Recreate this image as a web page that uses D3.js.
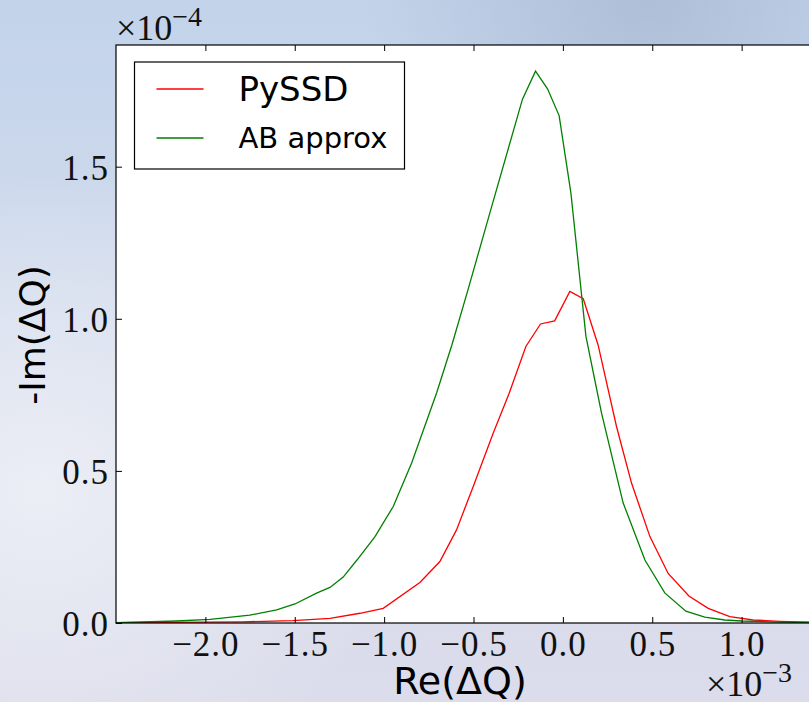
<!DOCTYPE html>
<html>
<head>
<meta charset="utf-8">
<script src="https://cdn.jsdelivr.net/npm/d3@7"></script>
<style>
  body { margin: 0; padding: 0; overflow: hidden; }
  svg { display: block; }
</style>
</head>
<body>
<div id="chart"></div>
<script>
// Re(dQ) in units of 1e-3, -Im(dQ) in units of 1e-4
const pyssd_re = [-2.5, -1.79, -1.51, -1.303, -1.135, -1.005, -0.8, -0.688, -0.595, -0.502, -0.39, -0.302, -0.207, -0.125, -0.046, 0.039, 0.114, 0.197, 0.3, 0.384, 0.487, 0.589, 0.705, 0.813, 0.934, 1.064, 1.214, 1.5];
const pyssd_im = [0.001, 0.004, 0.0076, 0.0155, 0.032, 0.048, 0.133, 0.202, 0.306, 0.448, 0.624, 0.753, 0.909, 0.983, 0.993, 1.09, 1.066, 0.914, 0.646, 0.46, 0.284, 0.163, 0.089, 0.048, 0.021, 0.0099, 0.0056, 0.001];

const ab_re = [-2.5, -2.161, -1.974, -1.751, -1.601, -1.499, -1.378, -1.303, -1.229, -1.152, -1.051, -0.949, -0.846, -0.706, -0.621, -0.531, -0.408, -0.226, -0.153, -0.086, -0.021, 0.045, 0.129, 0.216, 0.337, 0.459, 0.57, 0.688, 0.794, 0.906, 1.001, 1.214, 1.5];
const ab_im = [0.001, 0.0066, 0.012, 0.026, 0.043, 0.0625, 0.098, 0.117, 0.151, 0.207, 0.284, 0.383, 0.526, 0.757, 0.914, 1.095, 1.349, 1.722, 1.814, 1.756, 1.668, 1.413, 0.942, 0.691, 0.395, 0.207, 0.099, 0.039, 0.019, 0.0099, 0.0066, 0.003, 0.0007];

const x_ticks = [-2.0, -1.5, -1.0, -0.5, 0.0, 0.5, 1.0];
const x_tick_labels = ["\u22122.0", "\u22121.5", "\u22121.0", "\u22120.5", "0.0", "0.5", "1.0"];
const y_ticks = [0.0, 0.5, 1.0, 1.5];
const y_tick_labels = ["0.0", "0.5", "1.0", "1.5"];

const series_names = ["PySSD", "AB approx"];
const series_colors = ["#ff0000", "#008000"];

const W = 809, H = 702;
var margin = {top: 45, left: 116};
var plot_w = 715, plot_h = 578;

const svg = d3.select("#chart").append("svg")
    .attr("width", W)
    .attr("height", H);

// background, something like the photo behind the figure
const defs = svg.append("defs");
const bg = defs.append("linearGradient").attr("id", "bg")
    .attr("x1", 0).attr("y1", 0).attr("x2", 0).attr("y2", 1);
bg.append("stop").attr("offset", "0%").attr("stop-color", "#c2d3ea");
bg.append("stop").attr("offset", "45%").attr("stop-color", "#d3dced");
bg.append("stop").attr("offset", "100%").attr("stop-color", "#dcdceb");
const glow = defs.append("radialGradient").attr("id", "glow")
    .attr("cx", 0.05).attr("cy", 0.7).attr("r", 0.45);
glow.append("stop").attr("offset", "0%").attr("stop-color", "#eef0f6").attr("stop-opacity", 0.9);
glow.append("stop").attr("offset", "100%").attr("stop-color", "#eef0f6").attr("stop-opacity", 0);
const shade = defs.append("radialGradient").attr("id", "shade")
    .attr("cx", 0.8).attr("cy", 0.0).attr("r", 0.35);
shade.append("stop").attr("offset", "0%").attr("stop-color", "#a9b9d3").attr("stop-opacity", 0.8);
shade.append("stop").attr("offset", "100%").attr("stop-color", "#a9b9d3").attr("stop-opacity", 0);

svg.append("rect").attr("width", W).attr("height", H).attr("fill", "url(#bg)");
svg.append("rect").attr("width", W).attr("height", H).attr("fill", "url(#glow)");
svg.append("rect").attr("width", W).attr("height", H).attr("fill", "url(#shade)");

const g = svg.append("g")
    .attr("transform", "translate(" + margin.left + "," + margin.top + ")");

var x = d3.scaleLinear().domain([-2.5, 1.5]).range([0, plot_w]);
var y = d3.scaleLinear().domain([0, 1.9]).range([plot_h, 0]);

g.append("rect")
    .attr("width", plot_w).attr("height", plot_h)
    .attr("fill", "white");

defs.append("clipPath").attr("id", "clip")
    .append("rect").attr("width", plot_w).attr("height", plot_h);

const line = d3.line()
    .x(d => x(d[0]))
    .y(d => y(d[1]));

const pyssd = pyssd_re.map((v, i) => [v, pyssd_im[i]]);
const ab = ab_re.map((v, i) => [v, ab_im[i]]);

g.append("path")
    .datum(pyssd)
    .attr("clip-path", "url(#clip)")
    .attr("d", line)
    .attr("fill", "none")
    .attr("stroke", series_colors[0])
    .attr("stroke-width", 1.3);

g.append("path")
    .datum(ab)
    .attr("clip-path", "url(#clip)")
    .attr("d", line)
    .attr("fill", "none")
    .attr("stroke", series_colors[1])
    .attr("stroke-width", 1.3);

// axes, ticks pointing inward like matplotlib classic
const tick_font = "'Liberation Serif', 'DejaVu Serif', serif";

const xb = g.append("g")
    .attr("transform", "translate(0," + plot_h + ")")
    .call(d3.axisBottom(x).tickValues(x_ticks).tickSizeInner(-6).tickSizeOuter(0)
        .tickFormat((d, i) => x_tick_labels[i]));
xb.selectAll("text")
    .attr("y", 33).attr("dy", 0)
    .style("font-family", tick_font)
    .style("font-size", "35px")
    .style("letter-spacing", "1px")
    .style("fill", "#111");

const xt = g.append("g")
    .call(d3.axisTop(x).tickValues(x_ticks).tickSizeInner(-6).tickSizeOuter(0)
        .tickFormat(""));

const yl = g.append("g")
    .call(d3.axisLeft(y).tickValues(y_ticks).tickSizeInner(-6).tickSizeOuter(0)
        .tickFormat((d, i) => y_tick_labels[i]));
yl.selectAll("text")
    .attr("x", -7).attr("dy", "0.36em")
    .style("font-family", tick_font)
    .style("font-size", "35px")
    .style("letter-spacing", "1px")
    .style("fill", "#111");

g.selectAll(".domain").remove();
g.selectAll(".tick line").attr("stroke", "#000").attr("stroke-width", 1);

g.append("rect")
    .attr("width", plot_w).attr("height", plot_h)
    .attr("fill", "none")
    .attr("stroke", "#000")
    .attr("stroke-width", 1.2);

// axis labels
svg.append("text")
    .attr("x", 460).attr("y", 694)
    .attr("text-anchor", "middle")
    .style("font-family", "'DejaVu Sans', sans-serif")
    .style("font-size", "38px")
    .text("Re(\u0394Q)");

svg.append("text")
    .attr("transform", "translate(45,335) rotate(-90)")
    .attr("text-anchor", "middle")
    .style("font-family", "'DejaVu Sans', sans-serif")
    .style("font-size", "36px")
    .text("-Im(\u0394Q)");

// offset labels
function offset_label(px, py, exp, size, sup_size, sup_dy) {
    const t = svg.append("text")
        .attr("x", px).attr("y", py)
        .style("font-family", tick_font)
        .style("font-size", size + "px")
        .style("fill", "#111");
    t.append("tspan").text("\u00d710");
    t.append("tspan")
        .attr("dy", sup_dy)
        .style("font-size", sup_size + "px")
        .text("\u2212" + exp);
}
offset_label(116, 40, 4, 36, 28, -14);
offset_label(706, 696, 3, 36, 28, -14);

// legend
const leg = g.append("g").attr("transform", "translate(" + (134.5 - margin.left) + "," + (62 - margin.top) + ")");
leg.append("rect")
    .attr("width", 270).attr("height", 107)
    .attr("fill", "white")
    .attr("stroke", "#000")
    .attr("stroke-width", 1.2);
const leg_y = [27, 76];
const leg_size = [34, 29];
const leg_base = [39, 86];
series_names.forEach(function(name, i) {
    leg.append("line")
        .attr("x1", 22).attr("x2", 69)
        .attr("y1", leg_y[i]).attr("y2", leg_y[i])
        .attr("stroke", series_colors[i])
        .attr("stroke-width", 1.3);
    leg.append("text")
        .attr("x", 104).attr("y", leg_base[i])
        .style("font-family", "'DejaVu Sans', sans-serif")
        .style("font-size", leg_size[i] + "px")
        .text(name);
});
</script>
</body>
</html>
